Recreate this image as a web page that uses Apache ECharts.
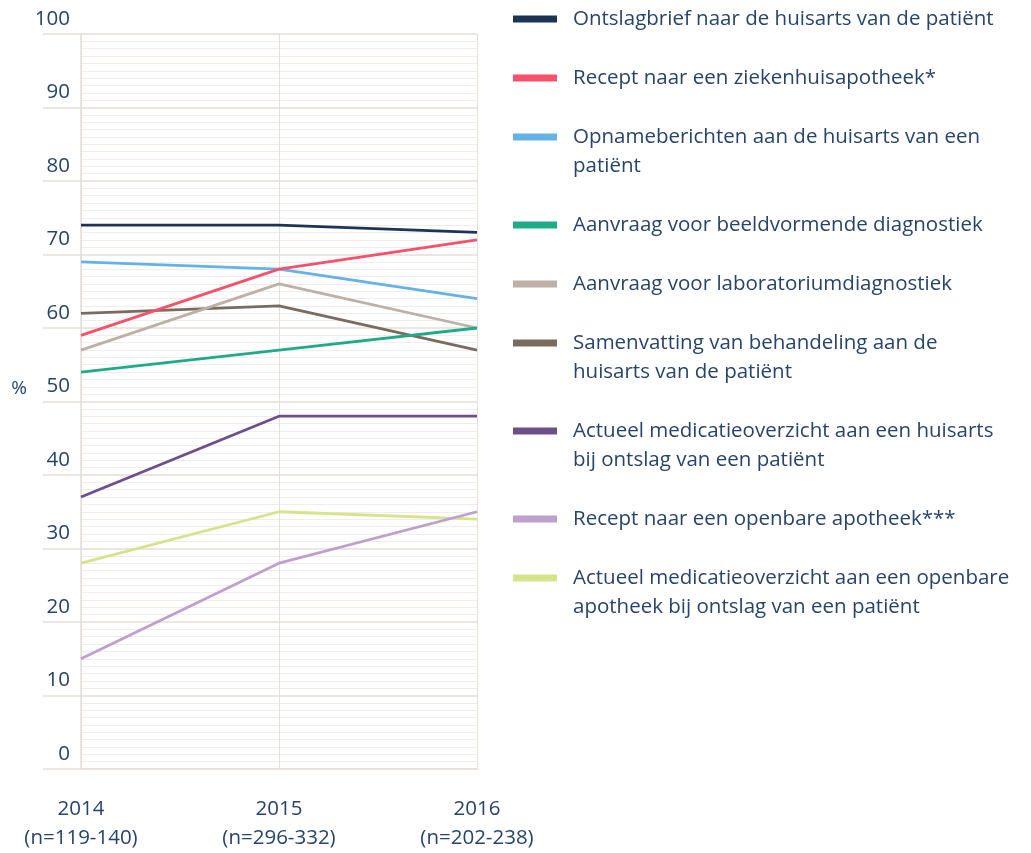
<!DOCTYPE html>
<html>
<head>
<meta charset="utf-8">
<script src="https://cdn.jsdelivr.net/npm/echarts@6/dist/echarts.min.js"></script>
<style>
  html, body { margin: 0; padding: 0; background: #ffffff; }
  #chart { width: 1031px; height: 853px; }
</style>
</head>
<body>
<div id="chart"></div>
<script>
// Survey years and sample sizes shown under the x axis
const years = ['2014', '2015', '2016'];
const sampleSizes = ['(n=119-140)', '(n=296-332)', '(n=202-238)'];

// Legend labels, split into the lines they are shown on
const seriesLabels = [
  ['Ontslagbrief naar de huisarts van de patiënt'],
  ['Recept naar een ziekenhuisapotheek*'],
  ['Opnameberichten aan de huisarts van een', 'patiënt'],
  ['Aanvraag voor beeldvormende diagnostiek'],
  ['Aanvraag voor laboratoriumdiagnostiek'],
  ['Samenvatting van behandeling aan de', 'huisarts van de patiënt'],
  ['Actueel medicatieoverzicht aan een huisarts', 'bij ontslag van een patiënt'],
  ['Recept naar een openbare apotheek***'],
  ['Actueel medicatieoverzicht aan een openbare', 'apotheek bij ontslag van een patiënt']
];

// Percentages per year (2014, 2015, 2016)
const ontslagbrief = [74, 74, 73];
const receptZiekenhuis = [59, 68, 72];
const opnameberichten = [69, 68, 64];
const beeldvormend = [54, 57, 60];
const laboratorium = [57, 66, 60];
const samenvatting = [62, 63, 57];
const medicatieHuisarts = [37, 48, 48];
const receptOpenbaar = [15, 28, 35];
const medicatieOpenbaar = [28, 35, 34];

const seriesValues = [
  ontslagbrief, receptZiekenhuis, opnameberichten, beeldvormend, laboratorium,
  samenvatting, medicatieHuisarts, receptOpenbaar, medicatieOpenbaar
];

const seriesColors = [
  '#1c3557', '#f5516b', '#64b2e8', '#20ab87', '#bdb0a6',
  '#7b6b5f', '#6d4f8a', '#bea0cf', '#d5e38b'
];

const yTicks = [0, 10, 20, 30, 40, 50, 60, 70, 80, 90, 100];

const FONT = '"Open Sans", Lato, sans-serif';
const TEXT = '#27446b';
const GRID_MAJOR = '#e6ded8';
const GRID_MINOR = '#f2edeb';
const LINE_H = 29;
const FS = 20.5;

const names = seriesLabels.map(l => l.join(' '));

// One legend block per series; wrapped labels get an empty leading line so the
// marker stays level with their first line
const legends = [];
let y = 4.5;
seriesLabels.forEach((lines, i) => {
  const multi = lines.length > 1;
  const shown = (multi ? [' '].concat(lines) : lines).map(s => '{t|' + s + '}').join('\n');
  legends.push({
    orient: 'vertical',
    left: 513,
    top: multi ? y - LINE_H : y,
    padding: 0,
    icon: 'rect',
    itemWidth: 44,
    itemHeight: 7,
    itemGap: 0,
    selectedMode: false,
    data: [names[i]],
    formatter: () => shown,
    textStyle: {
      fontFamily: FONT,
      fontSize: FS,
      color: TEXT,
      lineHeight: LINE_H,
      rich: {
        t: {
          fontFamily: FONT,
          fontSize: FS,
          color: TEXT,
          lineHeight: LINE_H,
          padding: [0, 0, 0, 11]
        }
      }
    }
  });
  y += lines.length * LINE_H + 30;
});

const chart = echarts.init(document.getElementById('chart'), null, { renderer: 'canvas' });

chart.setOption({
  animation: false,
  backgroundColor: '#ffffff',
  legend: legends,
  grid: { left: 81, right: 554, top: 34, bottom: 80, containLabel: false },
  xAxis: {
    type: 'category',
    boundaryGap: false,
    data: years.map((yr, i) => yr + '\n' + sampleSizes[i]),
    axisLine: { show: true, lineStyle: { color: GRID_MAJOR, width: 1.5 } },
    axisTick: { show: false },
    axisLabel: {
      margin: 26,
      fontFamily: FONT,
      fontSize: FS,
      color: TEXT,
      lineHeight: LINE_H,
      verticalAlign: 'top'
    },
    splitLine: { show: true, lineStyle: { color: GRID_MAJOR, width: 1 } }
  },
  yAxis: {
    type: 'value',
    min: yTicks[0],
    max: yTicks[yTicks.length - 1],
    interval: 10,
    name: '%',
    nameLocation: 'middle',
    nameRotate: 0,
    nameGap: 54,
    nameTextStyle: {
      fontFamily: FONT,
      fontSize: 19,
      color: TEXT,
      verticalAlign: 'bottom',
      lineHeight: 26
    },
    axisLine: { show: true, lineStyle: { color: GRID_MAJOR, width: 1.5 } },
    axisTick: { show: true, inside: false, length: 38, lineStyle: { color: GRID_MAJOR, width: 1.5 } },
    axisLabel: {
      margin: 11,
      fontFamily: FONT,
      fontSize: FS,
      color: TEXT,
      verticalAlign: 'bottom',
      lineHeight: 30
    },
    splitLine: { show: true, lineStyle: { color: GRID_MAJOR, width: 1.5 } },
    minorTick: { show: false, splitNumber: 10 },
    minorSplitLine: { show: true, lineStyle: { color: GRID_MINOR, width: 1 } }
  },
  series: names.map((name, i) => ({
    name: name,
    type: 'line',
    data: seriesValues[i],
    symbol: 'none',
    smooth: false,
    color: seriesColors[i],
    lineStyle: { color: seriesColors[i], width: 2.8 },
    z: 10 - i
  }))
});
</script>
</body>
</html>
